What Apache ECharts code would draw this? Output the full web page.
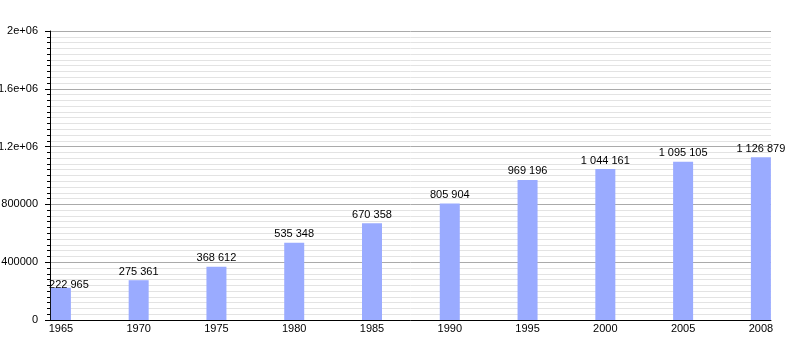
<!DOCTYPE html>
<html><head><meta charset="utf-8">
<script src="https://cdn.jsdelivr.net/npm/echarts@6/dist/echarts.min.js"></script>
<style>html,body{margin:0;padding:0;background:#fff}#c{width:800px;height:350px}</style>
</head><body><div id="c"></div>
<script>
const categories = ['1965','1970','1975','1980','1985','1990','1995','2000','2005','2008'];
const population = [222965, 275361, 368612, 535348, 670358, 805904, 969196, 1044161, 1095105, 1126879];
const yTickValues = [0, 400000, 800000, 1200000, 1600000, 2000000];
const yTickLabels = ['0', '400000', '800000', '1.2e+06', '1.6e+06', '2e+06'];

function fmt(v){ return String(v).replace(/\B(?=(\d{3})+(?!\d))/g, ' '); }

const chart = echarts.init(document.getElementById('c'));
const font = 'Liberation Sans, Arial, sans-serif';
chart.setOption({
  animation: false,
  grid: { left: 50, right: 29, top: 31, bottom: 30, containLabel: false, outerBoundsMode: 'none' },
  xAxis: {
    type: 'value', min: -0.14, max: 9.13,
    axisLine: { show: true, onZero: false, lineStyle: { color: '#000', width: 1 } },
    axisTick: { show: false },
    splitLine: { show: false },
    axisLabel: {
      customValues: categories.map((c, i) => i),
      formatter: v => categories[Math.round(v)],
      color: '#000', fontFamily: font, fontSize: 11, margin: 3
    }
  },
  yAxis: {
    type: 'value', min: 0, max: 2000000, interval: 400000,
    axisLine: { show: true, onZero: false, lineStyle: { color: '#000', width: 1 } },
    axisTick: { show: true, length: 5, lineStyle: { color: '#000' } },
    minorTick: { show: true, splitNumber: 10, length: 3, lineStyle: { color: '#000' } },
    splitLine: { show: true, lineStyle: { color: '#aaaaaa', width: 1 } },
    minorSplitLine: { show: true, lineStyle: { color: '#e3e3e3', width: 1 } },
    axisLabel: {
      formatter: v => yTickLabels[yTickValues.indexOf(v)] ?? '',
      color: '#000', fontFamily: font, fontSize: 11, margin: 12
    }
  },
  series: [{
    type: 'bar',
    barWidth: 20,
    data: population.map((v, i) => i === 0
      ? { value: [i, v], label: { offset: [8, 6] } }
      : [i, v]),
    itemStyle: { color: '#9aabff' },
    label: {
      show: true, position: 'top', distance: 3,
      formatter: p => fmt(p.value[1]),
      color: '#000', fontFamily: font, fontSize: 11
    }
  }]
});
</script></body></html>
